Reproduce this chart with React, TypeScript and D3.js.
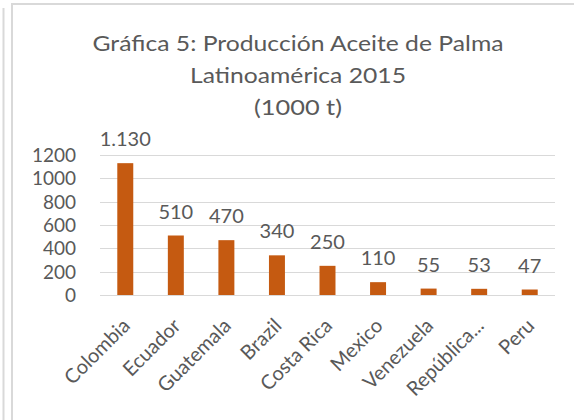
import React, { useRef, useEffect } from "react";
import * as d3 from "d3";

const countries = [
  "Colombia",
  "Ecuador",
  "Guatemala",
  "Brazil",
  "Costa Rica",
  "Mexico",
  "Venezuela",
  "República...",
  "Peru",
];
const production = [1130, 510, 470, 340, 250, 110, 55, 53, 47];
const valueLabels = ["1.130", "510", "470", "340", "250", "110", "55", "53", "47"];
const yTicks = [0, 200, 400, 600, 800, 1000, 1200];
const titleLines = [
  "Gráfica 5: Producción Aceite de Palma",
  "Latinoamérica 2015",
  "(1000 t)",
];
// widths of the title lines as measured on the original
const titleWidths = [411, 216, 88];

const App = () => {
  const ref = useRef<SVGSVGElement>(null);

  useEffect(() => {
    const width = 574;
    const height = 420;
    const textColor = "#595959";
    const font = "Lato, 'Open Sans', sans-serif";
    const plot = { left: 100, right: 555, top: 155, bottom: 295 };

    const svg = d3.select(ref.current);
    svg.selectAll("*").remove();

    svg.append("rect").attr("width", width).attr("height", height).attr("fill", "#fff");

    // outer frame lines
    svg.append("line")
      .attr("x1", 3.5).attr("x2", 3.5).attr("y1", 8).attr("y2", height)
      .attr("stroke", "#d9d9d9").attr("stroke-width", 2);
    svg.append("path")
      .attr("d", `M12,${height} L12,4 L${width},4`)
      .attr("fill", "none")
      .attr("stroke", "#d9d9d9").attr("stroke-width", 2);

    const x = d3.scaleBand<string>()
      .domain(countries)
      .range([plot.left, plot.right])
      .paddingInner(0.684)
      .paddingOuter(0.342);

    const y = d3.scaleLinear()
      .domain([0, 1200])
      .range([plot.bottom, plot.top]);

    // title
    const title = svg.append("text")
      .attr("text-anchor", "middle")
      .attr("fill", textColor)
      .style("font-family", font)
      .style("font-size", "22px");
    titleLines.forEach((t, i) => {
      title.append("tspan")
        .attr("x", 298)
        .attr("y", 51 + i * 32)
        .attr("textLength", titleWidths[i])
        .attr("lengthAdjust", "spacingAndGlyphs")
        .text(t);
    });

    // gridlines
    svg.append("g")
      .selectAll("line")
      .data(yTicks)
      .join("line")
      .attr("x1", plot.left)
      .attr("x2", plot.right)
      .attr("y1", (d) => Math.round(y(d)) + 0.5)
      .attr("y2", (d) => Math.round(y(d)) + 0.5)
      .attr("stroke", "#d9d9d9")
      .attr("stroke-width", 1);

    // y axis labels
    svg.append("g")
      .selectAll("text")
      .data(yTicks)
      .join("text")
      .attr("x", 76)
      .attr("y", (d) => y(d) + 7)
      .attr("text-anchor", "end")
      .attr("fill", textColor)
      .style("font-family", font)
      .style("font-size", "19px")
      .text((d) => d);

    // bars
    svg.append("g")
      .selectAll("rect")
      .data(production)
      .join("rect")
      .attr("x", (d, i) => x(countries[i])!)
      .attr("y", (d) => y(d))
      .attr("width", x.bandwidth())
      .attr("height", (d) => y(0) - y(d))
      .attr("fill", "#c55a11");

    // value labels
    svg.append("g")
      .selectAll("text")
      .data(production)
      .join("text")
      .attr("x", (d, i) => x(countries[i])! + x.bandwidth() / 2)
      .attr("y", (d) => y(d) - 17)
      .attr("text-anchor", "middle")
      .attr("fill", textColor)
      .style("font-family", font)
      .style("font-size", "20px")
      .text((d, i) => valueLabels[i]);

    // category labels
    svg.append("g")
      .selectAll("text")
      .data(countries)
      .join("text")
      .attr("transform", (d) => {
        const cx = x(d)! + x.bandwidth() / 2 + 6;
        return `translate(${cx},${plot.bottom + 32}) rotate(-45)`;
      })
      .attr("text-anchor", "end")
      .attr("fill", textColor)
      .style("font-family", font)
      .style("font-size", "20px")
      .text((d) => d);
  }, []);

  return (
    <svg
      ref={ref}
      width={574}
      height={420}
      style={{ position: "absolute", left: 0, top: 0 }}
    />
  );
};

export default App;
